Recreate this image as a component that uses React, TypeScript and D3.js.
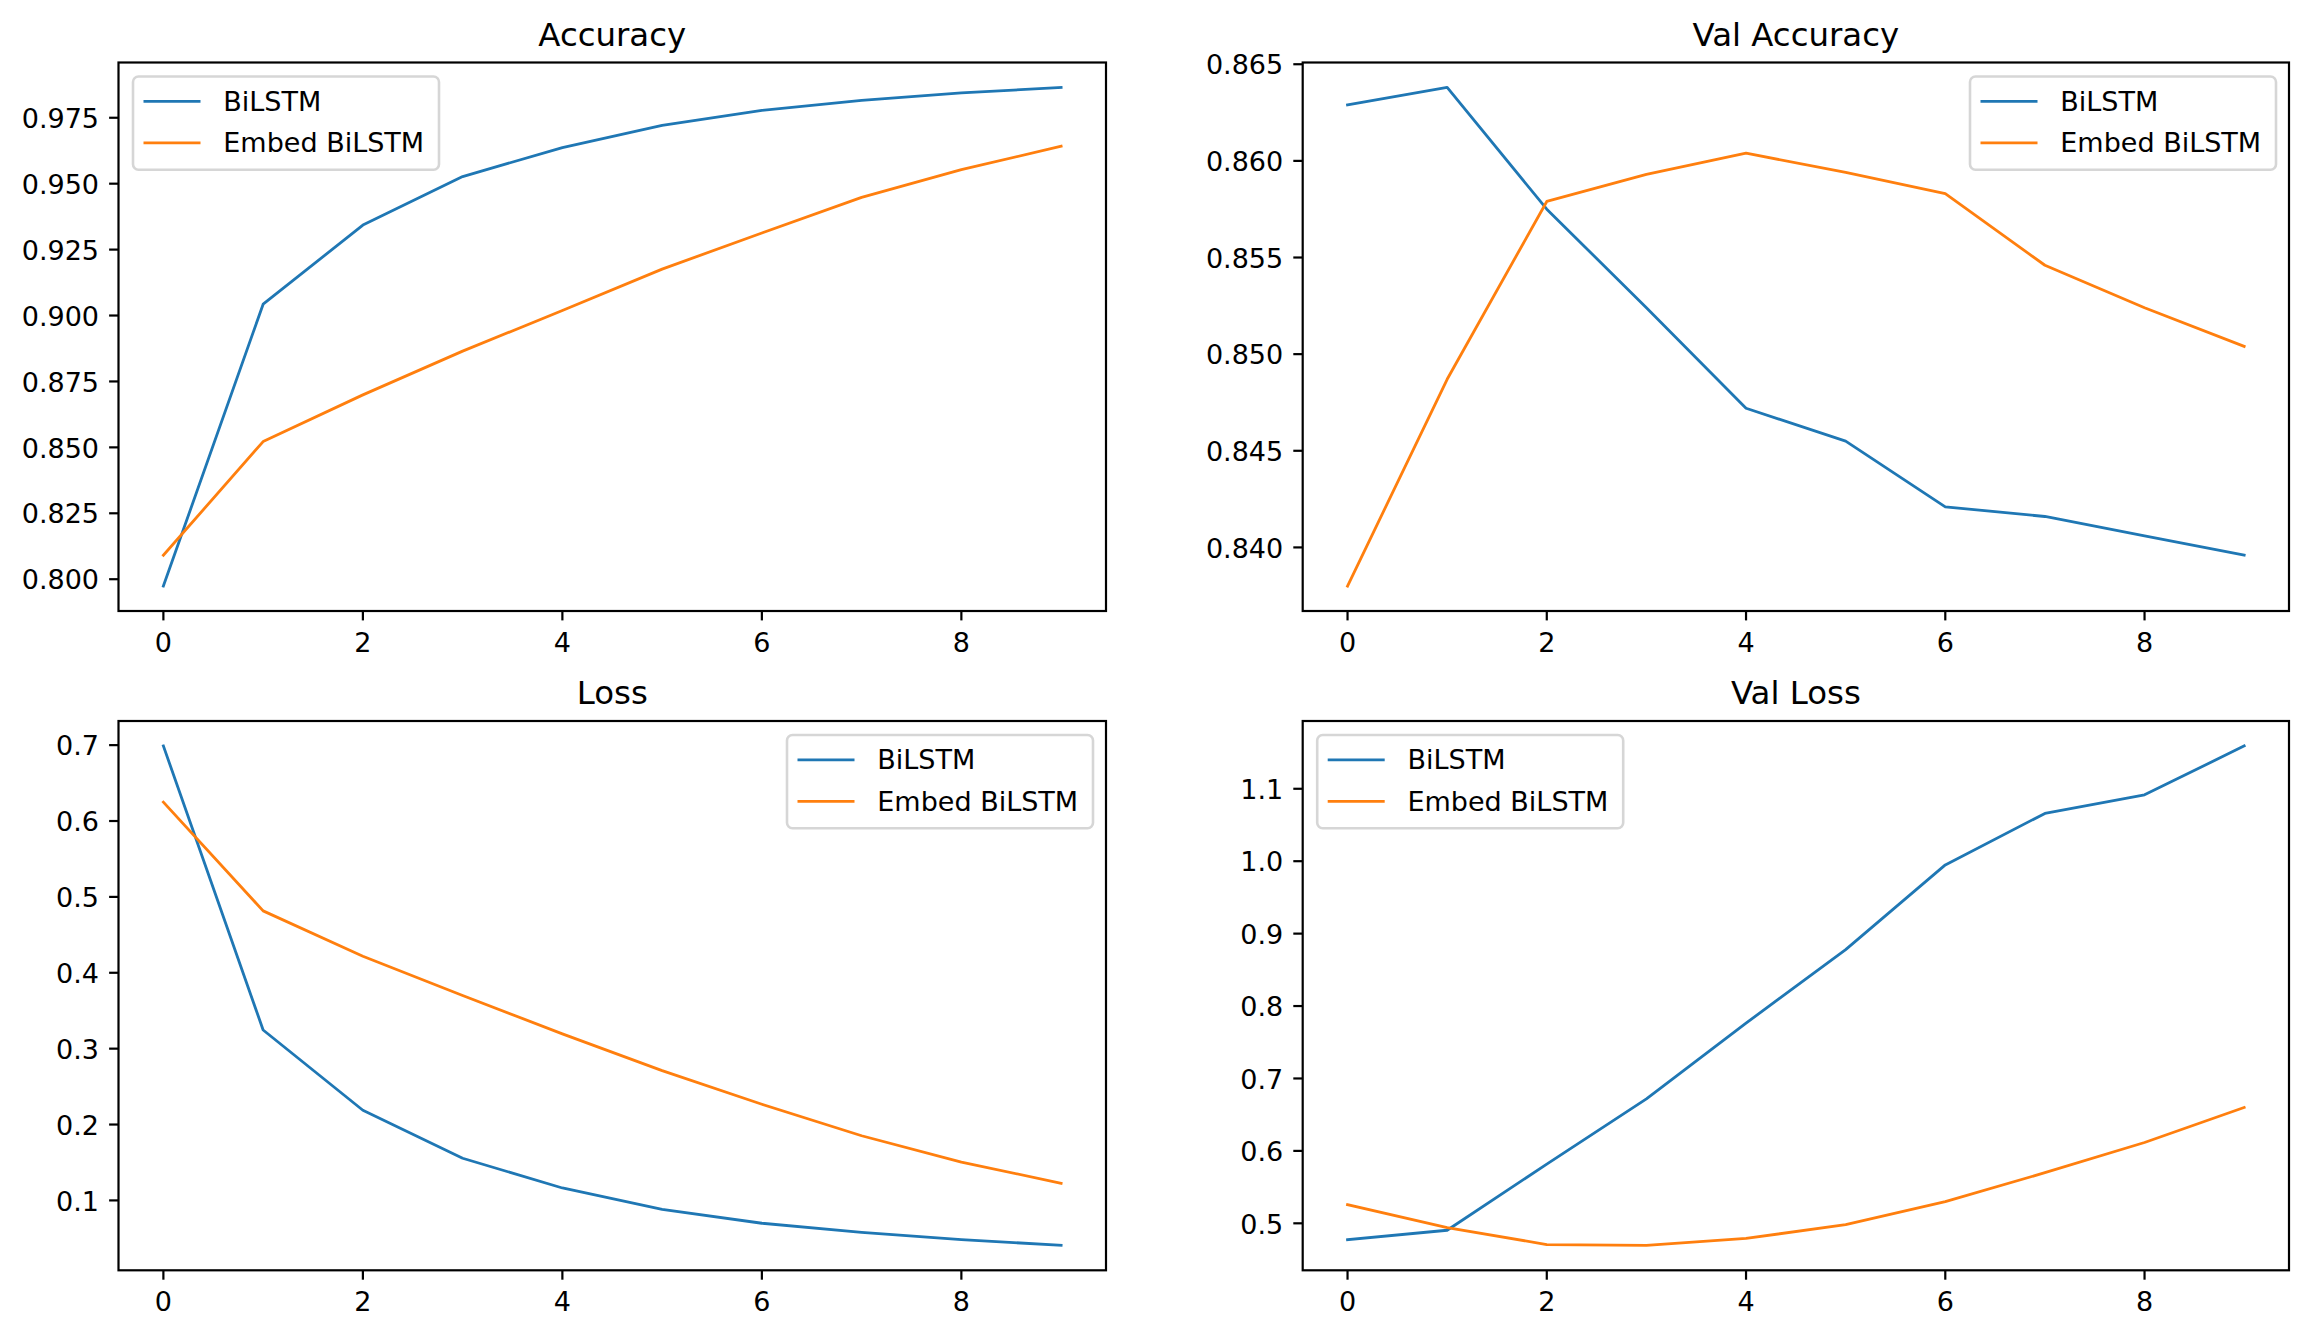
import React from "react";
import * as d3 from "d3";

// ---- data ----
const epochs = [0, 1, 2, 3, 4, 5, 6, 7, 8, 9];
const seriesNames = ["BiLSTM", "Embed BiLSTM"];
const seriesColors = ["#1f77b4", "#ff7f0e"];

const accBiLSTM = [0.7974, 0.9043, 0.9343, 0.9527, 0.9637, 0.9721, 0.9778, 0.9816, 0.9844, 0.9865];
const accEmbed = [0.8091, 0.8522, 0.8699, 0.8865, 0.9019, 0.9176, 0.9313, 0.9448, 0.9553, 0.9642];

const valAccBiLSTM = [0.8629, 0.8638, 0.8575, 0.8524, 0.8472, 0.8455, 0.8421, 0.8416, 0.8406, 0.8396];
const valAccEmbed = [0.838, 0.8487, 0.8579, 0.8593, 0.8604, 0.8594, 0.8583, 0.8546, 0.8524, 0.8504];

const lossBiLSTM = [0.6989, 0.3246, 0.2188, 0.1556, 0.1164, 0.0881, 0.0699, 0.0579, 0.0483, 0.0408];
const lossEmbed = [0.6249, 0.4816, 0.4218, 0.3701, 0.3195, 0.2711, 0.2267, 0.1852, 0.1505, 0.1226];

const valLossBiLSTM = [0.4773, 0.4904, 0.5818, 0.6719, 0.7764, 0.8779, 0.9949, 1.066, 1.0916, 1.1591];
const valLossEmbed = [0.5257, 0.494, 0.4707, 0.4696, 0.4791, 0.4982, 0.5299, 0.5699, 0.6116, 0.66];

const xTicks = [0, 2, 4, 6, 8];
const accTicks = [0.8, 0.825, 0.85, 0.875, 0.9, 0.925, 0.95, 0.975];
const valAccTicks = [0.84, 0.845, 0.85, 0.855, 0.86, 0.865];
const lossTicks = [0.1, 0.2, 0.3, 0.4, 0.5, 0.6, 0.7];
const valLossTicks = [0.5, 0.6, 0.7, 0.8, 0.9, 1.0, 1.1];

const titles = ["Accuracy", "Val Accuracy", "Loss", "Val Loss"];

// ---- layout ----
const W = 2309;
const H = 1338;
const colL = [118.5, 1302.7];
const colR = [1106, 2289];
const rowT = [62.5, 721];
const rowB = [611, 1270.3];
const FONT = "'DejaVu Sans', sans-serif";
const TICK_FS = 27;
const TITLE_FS = 32.4;

type Panel = {
  title: string;
  series: number[][];
  ticks: number[];
  fmt: string;
  legend: "ul" | "ur";
  col: number;
  row: number;
};

const panels: Panel[] = [
  { title: titles[0], series: [accBiLSTM, accEmbed], ticks: accTicks, fmt: ".3f", legend: "ul", col: 0, row: 0 },
  { title: titles[1], series: [valAccBiLSTM, valAccEmbed], ticks: valAccTicks, fmt: ".3f", legend: "ur", col: 1, row: 0 },
  { title: titles[2], series: [lossBiLSTM, lossEmbed], ticks: lossTicks, fmt: ".1f", legend: "ur", col: 0, row: 1 },
  { title: titles[3], series: [valLossBiLSTM, valLossEmbed], ticks: valLossTicks, fmt: ".1f", legend: "ul", col: 1, row: 1 },
];

function PanelView({ p }: { p: Panel }) {
  const L = colL[p.col];
  const R = colR[p.col];
  const T = rowT[p.row];
  const B = rowB[p.row];

  const xExt = d3.extent(epochs) as [number, number];
  const xPad = (xExt[1] - xExt[0]) * 0.05;
  const x = d3.scaleLinear().domain([xExt[0] - xPad, xExt[1] + xPad]).range([L, R]);

  const all = p.series.flat();
  const yMin = d3.min(all) as number;
  const yMax = d3.max(all) as number;
  const yPad = (yMax - yMin) * 0.05;
  const y = d3.scaleLinear().domain([yMin - yPad, yMax + yPad]).range([B, T]);

  const line = d3
    .line<number>()
    .x((_, i) => x(epochs[i]))
    .y((d) => y(d));

  const fmt = d3.format(p.fmt);

  const boxW = 306;
  const boxH = 93.3;
  const bx = p.legend === "ul" ? L + 14.5 : R - 13 - boxW;
  const by = T + 14;
  const rowY = [by + 24.8, by + 66.4];

  return (
    <g>
      <text x={(L + R) / 2} y={T - 17} textAnchor="middle" fontFamily={FONT} fontSize={TITLE_FS} fill="#000">
        {p.title}
      </text>
      {p.series.map((s, i) => (
        <path key={i} d={line(s) || ""} fill="none" stroke={seriesColors[i]} strokeWidth={2.8} strokeLinejoin="round" strokeLinecap="square" />
      ))}
      {/* x ticks */}
      {xTicks.map((t) => (
        <g key={"x" + t}>
          <line x1={x(t)} x2={x(t)} y1={B} y2={B + 9.4} stroke="#000" strokeWidth={2.2} />
          <text x={x(t)} y={B + 41} textAnchor="middle" fontFamily={FONT} fontSize={TICK_FS} fill="#000">
            {String(t)}
          </text>
        </g>
      ))}
      {/* y ticks */}
      {p.ticks.map((t) => (
        <g key={"y" + t}>
          <line x1={L - 9.4} x2={L} y1={y(t)} y2={y(t)} stroke="#000" strokeWidth={2.2} />
          <text x={L - 19.5} y={y(t) + 10.2} textAnchor="end" fontFamily={FONT} fontSize={TICK_FS} fill="#000">
            {fmt(t)}
          </text>
        </g>
      ))}
      {/* legend */}
      <rect x={bx} y={by} width={boxW} height={boxH} rx={5.5} ry={5.5} fill="#fff" fillOpacity={0.8} stroke="#d6d6d6" strokeWidth={2.6} />
      {seriesNames.map((n, i) => (
        <g key={n}>
          <line x1={bx + 10.5} x2={bx + 67.5} y1={rowY[i]} y2={rowY[i]} stroke={seriesColors[i]} strokeWidth={2.8} />
          <text x={bx + 90.3} y={rowY[i] + 9.4} fontFamily={FONT} fontSize={TICK_FS} fill="#000">
            {n}
          </text>
        </g>
      ))}
      {/* frame */}
      <rect x={L} y={T} width={R - L} height={B - T} fill="none" stroke="#000" strokeWidth={2.2} />
    </g>
  );
}

export default function App() {
  return (
    <svg
      width={W}
      height={H}
      viewBox={`0 0 ${W} ${H}`}
      style={{ position: "absolute", left: 0, top: 0, display: "block", background: "#fff" }}
    >
      <rect x={0} y={0} width={W} height={H} fill="#fff" />
      {panels.map((p, i) => (
        <PanelView key={i} p={p} />
      ))}
    </svg>
  );
}
